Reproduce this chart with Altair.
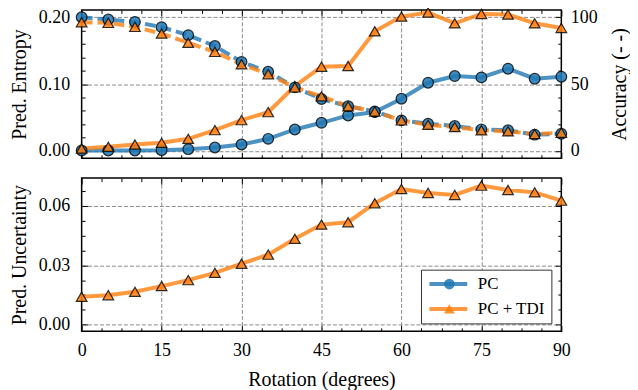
import altair as alt
import pandas as pd

# ---------------- data ----------------
rotation = [0, 5, 10, 15, 20, 25, 30, 35, 40, 45, 50, 55, 60, 65, 70, 75, 80, 85, 90]
pc_entropy = [0.0005, 0.0005, 0.0005, 0.001, 0.0025, 0.005, 0.0095, 0.018, 0.032, 0.042,
              0.053, 0.058, 0.078, 0.102, 0.112, 0.110, 0.123, 0.108, 0.111]
tdi_entropy = [0.0035, 0.006, 0.0095, 0.012, 0.018, 0.031, 0.046, 0.058, 0.097, 0.126,
               0.127, 0.179, 0.201, 0.207, 0.191, 0.205, 0.204, 0.191, 0.184]
pc_accuracy = [100.0, 98.3, 96.5, 92.6, 86.6, 78.5, 66.6, 59.2, 47.5, 38.8,
               33.4, 29.5, 22.8, 20.3, 18.6, 16.1, 15.4, 12.1, 12.8]
tdi_accuracy = [96.3, 95.8, 92.8, 87.8, 80.9, 74.1, 64.8, 57.4, 47.5, 40.8,
                33.4, 29.5, 22.8, 19.5, 17.8, 15.4, 14.6, 12.6, 13.6]
tdi_uncertainty = [0.0141, 0.0149, 0.0166, 0.0195, 0.0225, 0.0262, 0.0308, 0.0354, 0.0434, 0.0506,
                   0.0518, 0.0614, 0.0686, 0.0666, 0.0656, 0.0703, 0.0681, 0.0669, 0.0627]

series_names = ["PC", "PC + TDI"]
series_codes = ["a", "b"]
series_colors = ["#1f77b4", "#ff7f0e"]
series_shapes = ["circle", "triangle-up"]

x_major = [0, 15, 30, 45, 60, 75, 90]
x_minor = [3.75, 7.5, 11.25, 18.75, 22.5, 26.25, 33.75, 37.5, 41.25, 48.75, 52.5, 56.25,
           63.75, 67.5, 71.25, 78.75, 82.5, 86.25]
ent_major = [0.0, 0.1, 0.2]
ent_minor = [0.02, 0.04, 0.06, 0.08, 0.12, 0.14, 0.16, 0.18]
acc_major = [0, 50, 100]
acc_minor = [10, 20, 30, 40, 60, 70, 80, 90]
unc_major = [0.0, 0.03, 0.06]
unc_minor = [0.0075, 0.015, 0.0225, 0.0375, 0.045, 0.0525, 0.0675]

rows = []
for name, col, shp, ent, acc in zip(series_names, series_colors, series_shapes,
                                    [pc_entropy, tdi_entropy], [pc_accuracy, tdi_accuracy]):
    for r, e, a in zip(rotation, ent, acc):
        rows.append(dict(rot=r, series=name, col=col, shp=shp, entropy=e, accuracy=a))
top_df = pd.DataFrame(rows)
bot_df = pd.DataFrame(dict(rot=rotation, series="PC + TDI", code="b", unc=tdi_uncertainty))

# ---------------- styling helpers ----------------
FONT = "Liberation Serif, DejaVu Serif, serif"
MAJ, MIN = 6, 3.5
GRIDC = "#8a8a8a"
XGRID_OP = {"condition": {"test": "datum.value > 0 && datum.value < 90", "value": 1}, "value": 0}


def ticks(orient, values, size):
    """Inward-pointing ticks only (negative tick length given as an expression)."""
    return alt.Axis(orient=orient, values=values, tickSize={"expr": str(-size)},
                    domain=False, labels=False, ticks=True, tickColor="black", tickWidth=1,
                    grid=False, title=None, minExtent=0)


def guide(orient, values, grid=True, labels=False, **kw):
    """Grid lines, tick labels and title (no ticks)."""
    props = dict(orient=orient, values=values, ticks=False, tickSize=0, domain=False,
                 labels=labels, grid=grid, minExtent=0)
    if grid:
        props.update(gridColor=GRIDC, gridDash=[4, 2], gridWidth=1)
    if "title" not in kw:
        props["title"] = None
    props.update(kw)
    return alt.Axis(**props)


xs = alt.Scale(domain=[0, 90], nice=False, zero=False)
ent_s = alt.Scale(domain=[-0.011, 0.211], nice=False, zero=False)
acc_s = alt.Scale(domain=[-5.5, 105.5], nice=False, zero=False)
unc_s = alt.Scale(domain=[-0.0034, 0.0741], nice=False, zero=False)

W = 482
PT = dict(filled=True, size=115, opacity=1, fillOpacity=0.85,
          stroke="black", strokeWidth=1.2, strokeOpacity=0.8)

# ---------------- top panel ----------------
top_guides = alt.Chart(top_df).mark_line(opacity=0).encode(
    x=alt.X("rot:Q", scale=xs, axis=guide("bottom", x_major, gridOpacity=XGRID_OP)),
    y=alt.Y("entropy:Q", scale=ent_s,
            axis=guide("left", ent_major, labels=True, format=".2f", labelPadding=12,
                       title="Pred. Entropy", titlePadding=9)),
    detail="series:N",
)
ent_line = alt.Chart(top_df).mark_line(strokeWidth=4, strokeOpacity=0.8).encode(
    x=alt.X("rot:Q", scale=xs, axis=ticks("bottom", x_major, MAJ)),
    y=alt.Y("entropy:Q", scale=ent_s, axis=ticks("left", ent_major, MAJ)),
    color=alt.Color("col:N", scale=None),
    detail="series:N",
)
ent_pts = alt.Chart(top_df).mark_point(**PT).encode(
    x=alt.X("rot:Q", scale=xs, axis=ticks("bottom", x_minor, MIN)),
    y=alt.Y("entropy:Q", scale=ent_s, axis=ticks("left", ent_minor, MIN)),
    fill=alt.Fill("col:N", scale=None),
    shape=alt.Shape("shp:N", scale=None),
    detail="series:N",
)
acc_line = alt.Chart(top_df).mark_line(strokeWidth=4, strokeOpacity=0.8, strokeDash=[11, 5]).encode(
    x=alt.X("rot:Q", scale=xs, axis=ticks("top", x_major, MAJ)),
    y=alt.Y("accuracy:Q", scale=acc_s,
            axis=guide("right", acc_major, grid=False, labels=True, format="d", labelPadding=9,
                       title="Accuracy (- -)", titleAngle=270, titleBaseline="top",
                       titlePadding=12)),
    color=alt.Color("col:N", scale=None),
    detail="series:N",
)
acc_pts = alt.Chart(top_df).mark_point(**PT).encode(
    x=alt.X("rot:Q", scale=xs, axis=ticks("top", x_minor, MIN)),
    y=alt.Y("accuracy:Q", scale=acc_s, axis=ticks("right", acc_minor, MIN)),
    fill=alt.Fill("col:N", scale=None),
    shape=alt.Shape("shp:N", scale=None),
    detail="series:N",
)
acc_ticks = alt.Chart(top_df).mark_line(opacity=0).encode(
    x=alt.X("rot:Q", scale=xs, axis=None),
    y=alt.Y("accuracy:Q", scale=acc_s, axis=ticks("right", acc_major, MAJ)),
    detail="series:N",
)
top = alt.layer(top_guides, ent_line, ent_pts, acc_line, acc_pts, acc_ticks).resolve_scale(
    y="independent").resolve_axis(x="independent", y="independent").properties(width=W, height=149)

# ---------------- bottom panel ----------------
line_legend = alt.Legend(orient="none", legendX=341, legendY=92, title=None,
                         symbolType="M-3.8,0H3.8", symbolSize=100, symbolStrokeWidth=4,
                         symbolOpacity=0.8, symbolOffset=13, labelOffset=21, padding=6,
                         rowPadding=7, fillColor="white", strokeColor="#333333", cornerRadius=0,
                         labelFontSize=17, labelFont=FONT, labelColor="black", zindex=1)
marker_legend = alt.Legend(orient="none", legendX=341, legendY=92, title=None,
                           symbolSize=115, symbolStrokeColor="black", symbolStrokeWidth=1.2,
                           symbolOpacity=0.85, symbolOffset=14, padding=6, rowPadding=7,
                           labelOpacity=0, labelFontSize=17, labelFont=FONT, zindex=2)

bot_guides = alt.Chart(bot_df).mark_line(opacity=0).encode(
    x=alt.X("rot:Q", scale=xs,
            axis=guide("bottom", x_major, gridOpacity=XGRID_OP, labels=True, labelPadding=10,
                       labelFlush=False, title="Rotation (degrees)", titlePadding=10)),
    y=alt.Y("unc:Q", scale=unc_s,
            axis=guide("left", unc_major, labels=True, format=".2f", labelPadding=12,
                       title="Pred. Uncertainty", titlePadding=9)),
)
unc_line = alt.Chart(bot_df).mark_line(strokeWidth=4, strokeOpacity=0.8).encode(
    x=alt.X("rot:Q", scale=xs, axis=ticks("bottom", x_major, MAJ)),
    y=alt.Y("unc:Q", scale=unc_s, axis=ticks("left", unc_major, MAJ)),
    color=alt.Color("series:N", scale=alt.Scale(domain=series_names, range=series_colors),
                    legend=line_legend),
)
unc_min1 = alt.Chart(bot_df).mark_line(opacity=0).encode(
    x=alt.X("rot:Q", scale=xs, axis=ticks("bottom", x_minor, MIN)),
    y=alt.Y("unc:Q", scale=unc_s, axis=ticks("left", unc_minor, MIN)),
)
unc_min2 = alt.Chart(bot_df).mark_line(opacity=0).encode(
    x=alt.X("rot:Q", scale=xs, axis=ticks("top", x_minor, MIN)),
    y=alt.Y("unc:Q", scale=unc_s, axis=ticks("right", unc_minor, MIN)),
)
unc_pts = alt.Chart(bot_df).mark_point(**PT).encode(
    x=alt.X("rot:Q", scale=xs, axis=ticks("top", x_major, MAJ)),
    y=alt.Y("unc:Q", scale=unc_s, axis=ticks("right", unc_major, MAJ)),
    fill=alt.Fill("code:N", scale=alt.Scale(domain=series_codes, range=series_colors),
                  legend=marker_legend),
    shape=alt.Shape("code:N", scale=alt.Scale(domain=series_codes, range=series_shapes),
                    legend=marker_legend),
)
bottom = alt.layer(bot_guides, unc_line, unc_min1, unc_min2, unc_pts).resolve_axis(
    x="independent", y="independent").properties(width=W, height=154)

chart = alt.vconcat(top, bottom, spacing=15).resolve_scale(
    color="independent", fill="independent", shape="independent"
).resolve_legend(
    color="independent", fill="independent", shape="independent"
).properties(
    padding={"left": 0, "right": 0, "top": -6, "bottom": 0}
).configure_view(
    stroke="black", strokeWidth=1.5
).configure_axis(
    labelFont=FONT, titleFont=FONT, labelFontSize=18, titleFontSize=20,
    titleFontWeight="normal", labelColor="black", titleColor="black"
).configure_legend(
    labelFont=FONT, labelFontSize=17, labelColor="black"
)

chart.save("out.html", embed_options={"renderer": "svg", "actions": False})
